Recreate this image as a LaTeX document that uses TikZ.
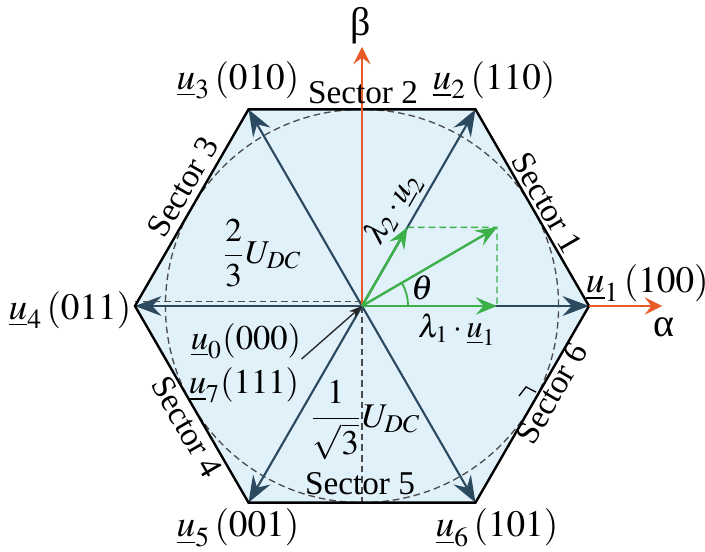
\documentclass[tikz,border=0pt]{standalone}
\usepackage{amsmath}
\usepackage{mathptmx}
\usepackage{fontspec}
\setmainfont{Liberation Serif}
\usepackage{xcolor}
\usetikzlibrary{arrows.meta}

\definecolor{hexfill}{HTML}{E0F1FA}
\definecolor{vecblue}{HTML}{2C4A5F}
\definecolor{axisorange}{HTML}{E85A28}
\definecolor{compgreen}{HTML}{3DB04A}

\tikzset{
  hexedge/.style={black, line width=0.9pt, line join=miter},
  vecarrow/.style={vecblue, line width=0.8pt, -{Stealth[length=10pt, width=7.5pt, inset=3.5pt]}},
  axisarrow/.style={axisorange, line width=0.8pt, -{Stealth[length=6.5pt, width=6.5pt, inset=2.5pt]}},
  comparrow/.style={compgreen, line width=0.9pt, -{Stealth[length=8pt, width=6.5pt, inset=3pt]}},
  compdash/.style={compgreen, line width=0.5pt, dash pattern=on 2.5pt off 1.5pt},
  greydash/.style={black!70, line width=0.5pt, dash pattern=on 2.5pt off 1.5pt},
  lbl/.style={inner sep=0pt, font=\fontsize{13}{15}\selectfont},
  vertexlbl/.style={inner sep=0pt, font=\fontsize{14}{16}\selectfont},
  sectorlbl/.style={inner sep=0pt, font=\fontsize{12.5}{15}\selectfont}
}

\begin{document}
\begin{tikzpicture}[>=stealth, scale=1]
    \useasboundingbox (-4.784,-3.238) rectangle (4.533,4.044);

    % hexagon corners and centre
    \coordinate (O) at (0,0);
    \foreach \i/\a in {1/0, 2/60, 3/120, 4/180, 5/240, 6/300}
        \coordinate (v\i) at (\a:3);
    \coordinate (b5) at (0,-2.598);

    \fill[hexfill] (v1) -- (v2) -- (v3) -- (v4) -- (v5) -- (v6) -- cycle;
    \draw[greydash] (O) circle (2.598);
    \draw[greydash] (O) -- (b5);

    % basic vectors
    \foreach \i in {1,...,6}
        \draw[vecarrow] (O) -- (v\i);
    \draw[greydash] ([yshift=1.6pt]O) -- ([yshift=1.6pt]v4);
    \draw[hexedge] (v1) -- (v2) -- (v3) -- (v4) -- (v5) -- (v6) -- cycle;

    % axes
    \coordinate (aend) at (3.965,0);
    \coordinate (bend) at (0,3.423);
    \draw[axisarrow] (v1) -- (aend);
    \draw[axisarrow] (O) -- (bend);
    \node[font=\fontsize{15}{17}\selectfont] (alpha) at (3.991,-0.278) {α};
    \node[font=\fontsize{15}{17}\selectfont] (beta) at (-0.02,3.70) {β};

    % reference vector and its components
    \coordinate (l1) at (1.784,0);
    \coordinate (l2) at (60:1.2);
    \coordinate (res) at (1.784,1.039);
    \draw[compdash] (l2) -- (res) -- (l1);
    \draw[comparrow] (O) -- (l1);
    \draw[comparrow] (O) -- (l2);
    \draw[comparrow] (O) -- (res);
    \draw[compgreen, line width=0.7pt] (0.608,0) arc (0:30.2:0.608);
    \node[lbl] (theta) at (0.793,0.238) {$\theta$};
    \node[lbl, font=\fontsize{12}{14}\selectfont] (lam1) at (1.256,-0.317) {$\lambda_1\cdot\underline{u}_1$};
    \node[lbl, font=\fontsize{12}{14}\selectfont, rotate=60] (lam2) at (0.41,1.29) {$\lambda_2\cdot\underline{u}_2$};

    % vertex labels
    \node[vertexlbl] (u1) at (3.77,0.30) {$\underline{u}_1\,(100)$};
    \node[vertexlbl] (u2) at (1.745,2.987) {$\underline{u}_2\,(110)$};
    \node[vertexlbl] (u3) at (-1.639,2.987) {$\underline{u}_3\,(010)$};
    \node[vertexlbl] (u4) at (-3.859,-0.05) {$\underline{u}_4\,(011)$};
    \node[vertexlbl] (u5) at (-1.639,-2.93) {$\underline{u}_5\,(001)$};
    \node[vertexlbl] (u6) at (1.784,-2.93) {$\underline{u}_6\,(101)$};

    % zero vectors
    \node[lbl] (u0) at (-1.533,-0.463) {$\underline{u}_0(000)$};
    \node[lbl] (u7) at (-1.56,-1.044) {$\underline{u}_7(111)$};
    \draw[black!85, line width=0.5pt, -{Stealth[length=5pt, width=3.5pt]}] (u0.south east) -- (O);

    % magnitudes
    \node[lbl, font=\fontsize{12.5}{15}\selectfont] (mag1) at (-1.322,0.70) {$\dfrac{2}{3}U_{DC}$};
    \node[lbl] (mag2) at (0.04,-1.507) {$\dfrac{1}{\sqrt{3}}U_{DC}$};

    % sectors
    \node[sectorlbl] (s2) at (0.013,2.815) {Sector 2};
    \node[sectorlbl] (s5) at (-0.026,-2.352) {Sector 5};
    \node[sectorlbl, rotate=-60] (s1) at (2.445,1.361) {Sector 1};
    \node[sectorlbl, rotate=60] (s3) at (-2.366,1.573) {Sector 3};
    \node[sectorlbl, rotate=-60] (s4) at (-2.313,-1.599) {Sector 4};
    \node[sectorlbl, rotate=60] (s6) at (2.511,-1.15) {Sector 6};
    \draw[line width=0.5pt] (2.300,-1.137) -- (2.167,-1.070) -- (2.075,-1.189);
\end{tikzpicture}
\end{document}
